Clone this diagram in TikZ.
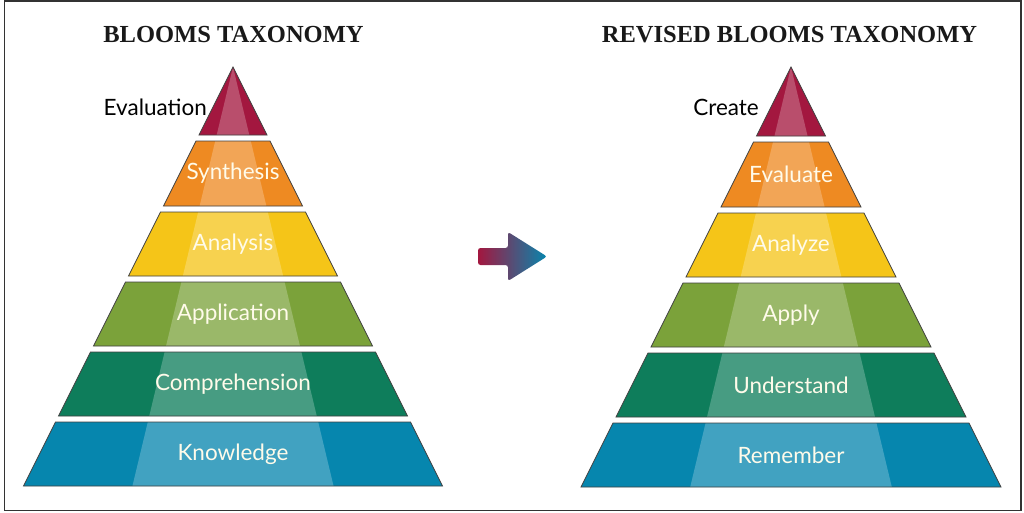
\documentclass[tikz,border=0pt]{standalone}
\usepackage{fontspec}
\setmainfont{Lato}
\newfontfamily\titlefont{Liberation Serif}
\newfontfamily\lblfont{Lato}
\definecolor{cmaroon}{HTML}{A3173F}
\definecolor{corange}{HTML}{EE8A22}
\definecolor{cyellow}{HTML}{F5C518}
\definecolor{cgreen}{HTML}{7BA23A}
\definecolor{cdgreen}{HTML}{0E7D5B}
\definecolor{cblue}{HTML}{0686AE}
\definecolor{ctext}{HTML}{FFFBEA}
\tikzset{
  outline/.style={draw=black!75,line width=0.8pt},
  lbl/.style={text=ctext,font=\lblfont\fontsize{22.5}{25}\selectfont,inner sep=0pt},
  sidelbl/.style={text=black,font=\lblfont\fontsize{22.5}{25}\selectfont,inner sep=0pt},
  ttl/.style={text=black!90,font=\titlefont\bfseries\fontsize{24.5}{27}\selectfont,inner sep=0pt},
}
\newcommand\pyrlayer[6]{%
  \fill[#4] ({#1-0.5*(#2-67)},#2) -- ({#1+0.5*(#2-67)},#2) -- ({#1+0.5*(#3-67)},#3) -- ({#1-0.5*(#3-67)},#3) -- cycle;
  \fill[white,opacity=0.24] ({#1-0.24*(#2-67)},#2) -- ({#1+0.24*(#2-67)},#2) -- ({#1+0.24*(#3-67)},#3) -- ({#1-0.24*(#3-67)},#3) -- cycle;
  \draw[outline] ({#1-0.5*(#2-67)},#2) -- ({#1+0.5*(#2-67)},#2) -- ({#1+0.5*(#3-67)},#3) -- ({#1-0.5*(#3-67)},#3) -- cycle;
  \node[lbl] (#5) at (#1,{(#2+#3)/2}) {#6};
}
\begin{document}
\begin{tikzpicture}[x=1pt,y=-1pt]
\useasboundingbox (0,0) rectangle (1024,512);
\fill[white] (0,0) rectangle (1024,512);
\draw[black!80,line width=1.3pt] (4.5,1) rectangle (1021,510.5);
% titles
\node[ttl] (t1) at (233.5,35) {BLOOMS TAXONOMY};
\node[ttl] (t2) at (789.5,35) {REVISED BLOOMS TAXONOMY};
% left pyramid
\pyrlayer{233}{67}{135}{cmaroon}{l0}{}
\pyrlayer{233}{141}{206}{corange}{l1}{Synthesis}
\pyrlayer{233}{212}{276}{cyellow}{l2}{Analysis}
\pyrlayer{233}{282}{346}{cgreen}{l3}{Application}
\pyrlayer{233}{352}{416}{cdgreen}{l4}{Comprehension}
\pyrlayer{233}{422}{486}{cblue}{l5}{Knowledge}
\node[sidelbl,anchor=east] (e0) at (207,107) {Evaluation};
% right pyramid
\pyrlayer{791}{67}{136}{cmaroon}{r0}{}
\pyrlayer{791}{142}{207}{corange}{r1}{Evaluate}
\pyrlayer{791}{213}{277}{cyellow}{r2}{Analyze}
\pyrlayer{791}{283}{347}{cgreen}{r3}{Apply}
\pyrlayer{791}{353}{417}{cdgreen}{r4}{Understand}
\pyrlayer{791}{423}{487}{cblue}{r5}{Remember}
\node[sidelbl,anchor=east] (c0) at (759,107) {Create};
% arrow
\shade[left color=cmaroon,right color=cblue,rounded corners=2.5pt]
  (478,248) -- (508,248) -- (508,232) -- (547,256.5) -- (508,281) -- (508,265) -- (478,265) -- cycle;
\end{tikzpicture}
\end{document}
